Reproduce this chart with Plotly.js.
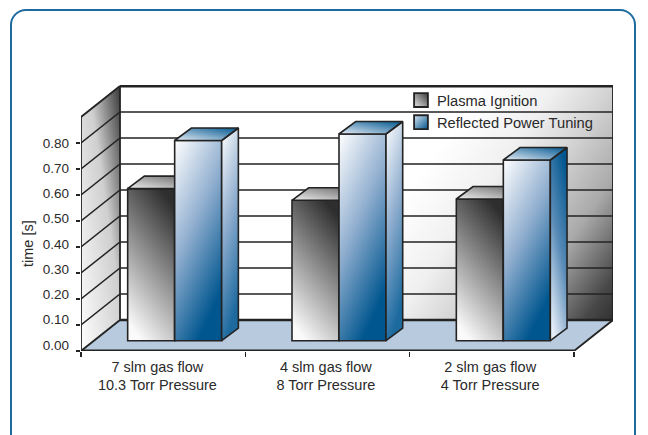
<!DOCTYPE html>
<html>
<head>
<meta charset="utf-8">
<script src="https://cdn.plot.ly/plotly-3.0.1.min.js"></script>
<style>
  html, body { margin: 0; padding: 0; background: #fff; overflow: hidden; }
  #frame { position: absolute; left: 10px; top: 9px; width: 626px; height: 460px;
           border: 2px solid #1d6a9f; border-radius: 16px; box-sizing: border-box; }
  #chart { position: absolute; left: 0; top: 0; width: 648px; height: 435px; }
</style>
</head>
<body>
<div id="frame"></div>
<div id="chart"></div>
<script>
// Measured times per operating condition
const categories = ["7 slm gas flow<br>10.3 Torr Pressure", "4 slm gas flow<br>8 Torr Pressure", "2 slm gas flow<br>4 Torr Pressure"];
const seriesNames = ["Plasma Ignition", "Reflected Power Tuning"];
const plasmaIgnition = [0.585, 0.54, 0.545];
const reflectedPowerTuning = [0.77, 0.795, 0.695];
const yTickValues = [0, 0.1, 0.2, 0.3, 0.4, 0.5, 0.6, 0.7, 0.8];
const yTickLabels = ["0.00", "0.10", "0.20", "0.30", "0.40", "0.50", "0.60", "0.70", "0.80"];
const wallTop = 0.9;

// Page geometry of the pseudo-3D box
const W = 648, H = 435;
const left = 81, bottom = 351, pxPerCat = 164.33, pxPerUnit = 260;
const boxDX = 39 / pxPerCat, boxDY = 31 / pxPerUnit;      // depth of the box
const barDX = 16.7 / pxPerCat, barDY = 12.5 / pxPerUnit;  // depth of a bar
const barW = 47 / pxPerCat;
const barShiftX = 11.5 / pxPerCat, barBase = 10.3 / pxPerUnit;
const ink = "#232323";

const xRange = [-0.5, 2.5 + boxDX];
const yRange = [0, (bottom - 85) / pxPerUnit];
const xDomain = [left / W, (left + pxPerCat * (xRange[1] - xRange[0])) / W];
const yDomain = [1 - bottom / H, 1 - (bottom - (yRange[1]) * pxPerUnit) / H];

const x0 = -0.5, x1 = 2.5;

function poly(xs, ys, name, fill, axes, lineW) {
  return {
    type: "scatter", mode: "lines", x: xs.concat(xs[0]), y: ys.concat(ys[0]),
    fill: "toself", fillcolor: fill, uid: name,
    line: { color: ink, width: lineW === undefined ? 1.6 : lineW },
    xaxis: axes[0], yaxis: axes[1], showlegend: false, hoverinfo: "skip"
  };
}

function edges(xs, ys, width) {
  return { type: "scatter", mode: "lines", x: xs, y: ys, line: { color: ink, width: width },
           hoverinfo: "skip", showlegend: false, xaxis: "x", yaxis: "y" };
}

// Box surfaces
const traces = [
  poly([x0 + boxDX, x1 + boxDX, x1 + boxDX, x0 + boxDX],
       [boxDY, boxDY, wallTop + boxDY, wallTop + boxDY], "backwall", "#ddd", ["x", "y"], 0),
  poly([x0, x0 + boxDX, x0 + boxDX, x0],
       [0, boxDY, wallTop + boxDY, wallTop], "sidewall", "#ccc", ["x", "y"], 0),
  poly([x0, x1, x1 + boxDX, x0 + boxDX], [0, 0, boxDY, boxDY], "floor", "#b8cade", ["x", "y"], 0)
];

// Grid lines wrapping the side and back walls
const gx = [], gy = [];
[0.1, 0.2, 0.3, 0.4, 0.5, 0.6, 0.7, 0.8].forEach(v => {
  gx.push(x0, x0 + boxDX, x1 + boxDX, null);
  gy.push(v, v + boxDY, v + boxDY, null);
});
traces.push(edges(gx, gy, 1.5));

// Outline of the box, heaviest along the top and the floor edges
traces.push(edges([x0, x0, x0 + boxDX, null, x0 + boxDX, x0 + boxDX, x0, null, x1, x1 + boxDX, x1 + boxDX],
                  [0, wallTop, wallTop + boxDY, null, wallTop + boxDY, boxDY, 0, null, 0, boxDY, wallTop + boxDY], 1.8));
traces.push(edges([x0 + boxDX, x1 + boxDX, null, x0, x1], [wallTop + boxDY, wallTop + boxDY, null, 0, 0], 2.8));
traces.push(edges([x0 + boxDX, x1 + boxDX], [boxDY, boxDY], 2.4));

// Front faces are real bars; top and side faces are projected from the same values
function addSeries(values, name, offset, axes, key) {
  const cx = values.map((_, i) => i + offset + barShiftX);
  traces.push({
    type: "bar", name: name, x: cx, y: values, base: values.map(() => barBase), width: barW,
    marker: { color: key === "a" ? "#888" : "#5a8cb8", line: { color: ink, width: 1.6 } },
    xaxis: axes[0], yaxis: axes[1], hoverinfo: "skip"
  });
  values.forEach((v, i) => {
    const l = cx[i] - barW / 2, r = cx[i] + barW / 2, t = barBase + v;
    traces.push(poly([r, r + barDX, r + barDX, r], [barBase, barBase + barDY, t + barDY, t],
                     "side" + key + i, "#aaa", axes));
    traces.push(poly([l, l + barDX, r + barDX, r], [t, t + barDY, t + barDY, t],
                     "top" + key + i, "#aaa", axes));
  });
}
addSeries(plasmaIgnition, seriesNames[0], -barW / 2, ["x2", "y2"], "a");
addSeries(reflectedPowerTuning, seriesNames[1], barW / 2, ["x3", "y3"], "b");

// Empty carrier for the value-label axis
traces.push({ type: "scatter", x: [], y: [], xaxis: "x", yaxis: "y4", showlegend: false, hoverinfo: "skip" });

const hiddenX = { domain: xDomain, range: xRange, showgrid: false, zeroline: false, showticklabels: false, ticks: "" };
const hiddenY = { domain: yDomain, range: yRange, showgrid: false, zeroline: false, showticklabels: false, ticks: "" };
const family = "Liberation Sans, Arial, sans-serif";
const textColor = "#2a2a2a";
const wideFont = { family: family, size: 14.5, color: textColor };
const legendFont = { family: family, size: 14.7, color: textColor };
const valueFont = { family: family, size: 13.5, color: textColor };

const layout = {
  width: W, height: H, margin: { l: 0, r: 0, t: 0, b: 0, pad: 0 },
  paper_bgcolor: "rgba(0,0,0,0)", plot_bgcolor: "rgba(0,0,0,0)",
  barmode: "overlay", hovermode: false, font: wideFont,
  xaxis: Object.assign({}, hiddenX, { ticks: "outside", ticklen: 5, tickwidth: 1.5, tickcolor: ink,
           tickmode: "array", tickvals: [-0.5, 0.5, 1.5, 2.5], ticktext: ["", "", "", ""], anchor: "y" }),
  yaxis: Object.assign({}, hiddenY, { ticks: "outside", ticklen: 4, tickwidth: 1.5, tickcolor: ink,
           tickmode: "array", tickvals: yTickValues, ticktext: yTickValues.map(() => ""), anchor: "x" }),
  xaxis2: Object.assign({}, hiddenX, { overlaying: "x", anchor: "y2" }),
  yaxis2: Object.assign({}, hiddenY, { overlaying: "y", anchor: "x2" }),
  xaxis3: Object.assign({}, hiddenX, { overlaying: "x", anchor: "y3", showticklabels: true,
           tickmode: "array", tickvals: [-0.035, 0.99, 1.99], ticktext: categories,
           ticklen: 0, tickfont: wideFont, ticklabelstandoff: 5 }),
  yaxis3: Object.assign({}, hiddenY, { overlaying: "y", anchor: "x3" }),
  // Value labels sit on a slightly tighter scale than the wall grid
  yaxis4: { domain: yDomain, overlaying: "y", anchor: "x",
            range: [(345 - bottom) / 252.5, (345 - (bottom - yRange[1] * pxPerUnit)) / 252.5],
            showgrid: false, zeroline: false, ticks: "", showticklabels: true,
            tickmode: "array", tickvals: yTickValues, ticktext: yTickLabels,
            tickfont: valueFont, ticklabelstandoff: 11 },
  showlegend: true,
  legend: { x: 401 / W, y: 1 - 84 / H, xanchor: "left", yanchor: "top", bgcolor: "rgba(0,0,0,0)",
            font: legendFont, traceorder: "normal", itemwidth: 30 },
  annotations: [{ text: "time [s]", xref: "paper", yref: "paper", x: 28 / W, y: 1 - 244 / H,
                  xanchor: "center", yanchor: "middle",
                  showarrow: false, textangle: -90, font: { family: family, size: 14.5, color: textColor } }]
};

// Diagonal shading for the faces, given as [x1,y1,x2,y2,[offset,color]...]
const shades = {
  backwall: [0, 0, 1.2, 0.39, [0.55, "#ffffff"], [0.667, "#f0f0f0"], [0.75, "#d4d4d4"], [0.85, "#aaaaaa"], [0.955, "#484848"], [1, "#303030"]],
  sidewall: [1, 0, 0, 1, [0, "#3a3a3a"], [0.4, "#cfcfcf"], [1, "#ffffff"]],
  frontA: [0.7, 0, 0.3, 1, [0, "#2e2e2e"], [1, "#fafafa"]],
  topA: [1, 0, 0, 1, [0, "#666666"], [1, "#eeeeee"]],
  frontB: [0, 0, 0.5, 1, [0, "#ffffff"], [0.5, "#90aecf"], [1, "#00568f"]],
  sideB: [0, 0, 0.25, 1, [0, "#ffffff"], [0.5, "#90aecf"], [1, "#1d6a9f"]],
  sideBDark: [0.7, 0, 0.3, 1, [0, "#00568f"], [0.5, "#5a8cb8"], [1, "#e6edf6"]],
  topB: [1, 0, 0, 1, [0, "#00568f"], [1, "#e6edf6"]],
  swatchA: [1, 0, 0, 1, [0, "#3a3a3a"], [1, "#e8e8e8"]],
  swatchB: [1, 1, 0, 0, [0, "#00568f"], [1, "#dbe5f1"]]
};

function addGradients(svg) {
  const ns = "http://www.w3.org/2000/svg";
  const defs = document.createElementNS(ns, "defs");
  Object.keys(shades).forEach(id => {
    const s = shades[id];
    const g = document.createElementNS(ns, "linearGradient");
    g.setAttribute("id", "shade-" + id);
    ["x1", "y1", "x2", "y2"].forEach((a, i) => g.setAttribute(a, s[i]));
    s.slice(4).forEach(st => {
      const e = document.createElementNS(ns, "stop");
      e.setAttribute("offset", st[0]);
      e.setAttribute("stop-color", st[1]);
      g.appendChild(e);
    });
    defs.appendChild(g);
  });
  svg.insertBefore(defs, svg.firstChild);
}

function paint(selector, id) {
  gd.querySelectorAll(selector).forEach(n => { n.style.fill = "url(#shade-" + id + ")"; n.style.fillOpacity = 1; });
}

const gd = document.getElementById("chart");
Plotly.newPlot(gd, traces, layout, { staticPlot: true, displayModeBar: false }).then(() => {
  addGradients(gd.querySelector(".main-svg"));
  paint(".tracebackwall .js-fill", "backwall");
  paint(".tracesidewall .js-fill", "sidewall");
  [0, 1, 2].forEach(i => {
    paint(".tracetopa" + i + " .js-fill", "topA");
    paint(".tracetopb" + i + " .js-fill", "topB");
    paint(".tracesideb" + i + " .js-fill", i === 2 ? "sideBDark" : "sideB");
    paint(".tracesidea" + i + " .js-fill", "frontA");
  });
  // Overlay subplots are grouped under the plain "x2y2" / "x3y3" class names
  paint(".x2y2 .barlayer .point path", "frontA");
  paint(".x3y3 .barlayer .point path", "frontB");
  // Legend keys: shaded, slightly larger, with the text drawn closer
  gd.querySelectorAll(".legend .legendpoints path").forEach((p, i) => {
    p.style.fill = "url(#shade-" + (i === 0 ? "swatchA" : "swatchB") + ")";
    p.setAttribute("transform", (p.getAttribute("transform") || "") + " scale(1.15)");
  });
  gd.querySelectorAll(".legend .legendtext").forEach(t => {
    t.setAttribute("x", parseFloat(t.getAttribute("x")) - 4);
  });
});
</script>
</body>
</html>
